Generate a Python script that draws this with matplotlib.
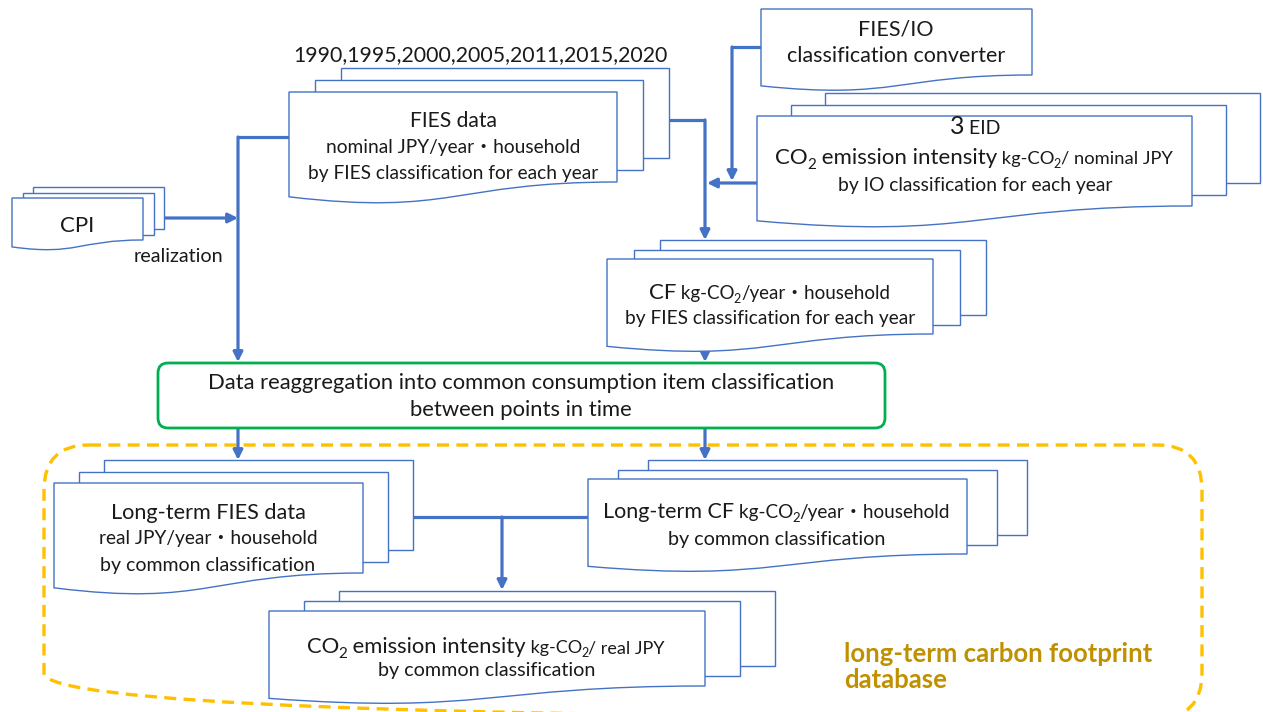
import matplotlib.pyplot as plt
from matplotlib.patches import PathPatch, Rectangle, FancyBboxPatch
from matplotlib.path import Path

FONT = ['Lato', 'Noto Sans CJK JP', 'DejaVu Sans']
BLUE = '#4472C4'
TXT = '#1a1a1a'
GREEN = '#00B050'
ORANGE = '#FFC000'
GOLD = '#BF9000'

# text content, one list per shape; each line = list of (text, size, is_subscript)
years_label = "1990,1995,2000,2005,2011,2015,2020"
cpi_lines = [[("CPI", 16, 0)]]
fies_lines = [[("FIES data", 15.2, 0)],
              [("nominal JPY/year・household", 13.8, 0)],
              [("by FIES classification for each year", 13.8, 0)]]
conv_lines = [[("FIES/IO", 15.5, 0)],
              [("classification converter", 15.5, 0)]]
eid_lines = [[("3", 18, 0), (" EID", 14, 0)],
             [("CO", 16, 0), ("2", 11, 1), (" emission intensity", 16, 0),
              (" kg-CO", 13.2, 0), ("2", 9, 1), ("/ nominal JPY", 13.2, 0)],
             [("by IO classification for each year", 13.9, 0)]]
cf_lines = [[("CF", 16, 0), (" kg-CO", 13.5, 0), ("2", 9, 1), ("/year・household", 13.5, 0)],
            [("by FIES classification for each year", 13.8, 0)]]
reagg_lines = [[("Data reaggregation into common consumption item classification", 15.8, 0)],
               [("between points in time", 15.8, 0)]]
lfies_lines = [[("Long-term FIES data", 15.6, 0)],
               [("real JPY/year・household", 13.8, 0)],
               [("by common classification", 14, 0)]]
lcf_lines = [[("Long-term CF", 15.5, 0), (" kg-CO", 13.7, 0), ("2", 9.5, 1), ("/year・household", 13.7, 0)],
             [("by common classification", 14.2, 0)]]
lco2_lines = [[("CO", 15.8, 0), ("2", 11, 1), (" emission intensity", 15.8, 0),
               (" kg-CO", 13, 0), ("2", 9, 1), ("/ real JPY", 13, 0)],
              [("by common classification", 14.2, 0)]]
db_label = ["long-term carbon footprint", "database"]

# shape geometry in pixels: front page x0, y0, width, right-edge height, page offsets, pages
docs = {
    'cpi':   (12, 198, 131, 42, 10.5, 5.5, 3),
    'fies':  (289, 92, 328, 90, 26, 12, 3),
    'conv':  (761, 9, 271, 66, 0, 0, 1),
    'eid':   (757, 116, 435, 90, 34, 11.5, 3),
    'cf':    (607, 259, 326, 75, 26.5, 9.5, 3),
    'lfies': (54, 483, 309, 90, 25, 11.5, 3),
    'lcf':   (588, 479, 379, 75, 30, 9.5, 3),
    'lco2':  (269, 611, 436, 75, 35, 10, 3),
}

fig = plt.figure(figsize=(12.63, 7.12), dpi=100)
ax = fig.add_axes([0, 0, 1, 1])
ax.set_xlim(0, 1263)
ax.set_ylim(712, 0)
ax.axis('off')
renderer = fig.canvas.get_renderer()


def wave_page(x0, y0, w, h):
    H = h / 0.802
    verts = [(x0, y0), (x0 + w, y0), (x0 + w, y0 + h),
             (x0 + w / 2, y0 + h), (x0 + w / 2, y0 + 1.107 * H), (x0, y0 + 0.934 * H),
             (x0, y0)]
    codes = [Path.MOVETO, Path.LINETO, Path.LINETO,
             Path.CURVE4, Path.CURVE4, Path.CURVE4, Path.CLOSEPOLY]
    ax.add_patch(PathPatch(Path(verts, codes), fc='white', ec=BLUE, lw=1.0, zorder=3))


def multidoc(key):
    x0, y0, w, h, dx, dy, n = docs[key]
    for i in range(n - 1, 0, -1):
        ax.add_patch(Rectangle((x0 + i * dx, y0 - i * dy), w, h,
                               fc='white', ec=BLUE, lw=1.0, zorder=3))
    wave_page(x0, y0, w, h)


def rich_line(xc, y, parts, color=TXT, weight='normal'):
    items = []
    for s, size, sub in parts:
        t = ax.text(0, 0, s, fontsize=size, family=FONT, color=color,
                    va='baseline', ha='left', weight=weight, zorder=5)
        wd = t.get_window_extent(renderer).width
        items.append((t, wd, sub, size))
    total = sum(it[1] for it in items)
    x = xc - total / 2
    for t, wd, sub, size in items:
        # subscripts sit a bit below the baseline and hug the previous glyph
        if sub:
            t.set_position((x - 1, y + size * 0.45))
        else:
            t.set_position((x, y))
        x += wd - (1 if sub else 0)


def block(xc, baselines, lines):
    for yb, parts in zip(baselines, lines):
        rich_line(xc, yb, parts)


def line(xs, ys):
    ax.plot(xs, ys, color=BLUE, lw=2.3, solid_capstyle='butt', zorder=2)


def arrow(x1, y1, x2, y2):
    ax.annotate('', xy=(x2, y2), xytext=(x1, y1),
                arrowprops=dict(arrowstyle='-|>', color=BLUE, lw=2.3,
                                mutation_scale=14, shrinkA=0, shrinkB=0),
                zorder=2)


# connectors
arrow(163, 218, 238, 218)
arrow(238, 137, 238, 362)
line([238, 289], [137, 137])
line([669, 705], [120, 120])
arrow(705, 120, 705, 240)
line([761, 732], [47, 47])
arrow(732, 47, 732, 181)
arrow(757, 183, 707, 183)
arrow(705, 346, 705, 362)
arrow(238, 428, 238, 460)
arrow(705, 428, 705, 460)
line([413, 588], [517, 517])
arrow(502, 517, 502, 590)

# dashed database frame
ax.add_patch(FancyBboxPatch((44, 445), 1158, 273,
                            boxstyle='round,pad=0,rounding_size=45',
                            fc='none', ec=ORANGE, lw=2.4,
                            linestyle=(0, (3.6, 2.2)), zorder=1))

# reaggregation box
ax.add_patch(FancyBboxPatch((158, 363), 727, 65,
                            boxstyle='round,pad=0,rounding_size=10',
                            fc='white', ec=GREEN, lw=2.0, zorder=3))

for k in docs:
    multidoc(k)

# texts
rich_line(480, 61, [(years_label, 15.3, 0)])
block(77, [232], cpi_lines)
ax.text(178, 262, "realization", fontsize=14.2, family=FONT, color=TXT,
        ha='center', va='baseline', zorder=5)
block(453, [127, 153, 179], fies_lines)
block(896, [35, 62], conv_lines)
block(975, [134, 164, 191], eid_lines)
block(770, [299, 324], cf_lines)
block(521, [389, 416], reagg_lines)
block(208, [519, 544, 571], lfies_lines)
block(777, [518, 545], lcf_lines)
block(487, [653, 676], lco2_lines)

for i, s in enumerate(db_label):
    ax.text(844, 662 + i * 26, s, fontsize=18.5, family=FONT, color=GOLD,
            weight='bold', ha='left', va='baseline', zorder=5)

fig.savefig('out.png', dpi=100)
